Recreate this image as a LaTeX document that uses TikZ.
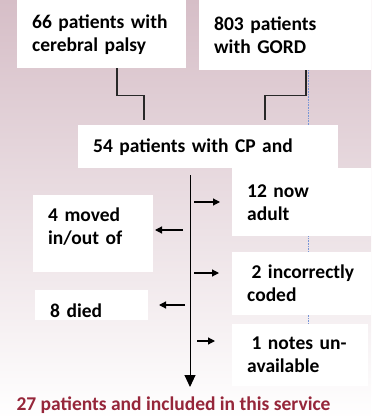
\documentclass[tikz,border=0pt]{standalone}
\usepackage{fontspec}
\setmainfont{Carlito}
\usetikzlibrary{positioning,arrows.meta}

\definecolor{bgtop}{RGB}{214,190,199}
\definecolor{outred}{RGB}{150,38,58}
\definecolor{linegray}{RGB}{40,40,40}
\definecolor{guideblue}{RGB}{120,150,215}

\tikzset{
  box/.style={fill=white, anchor=north west, inner xsep=15pt, inner ysep=0pt,
    align=left, text=black, font=\bfseries\fontsize{19.5}{23}\selectfont},
  elbow/.style={draw=linegray, line width=1.2pt},
  spine/.style={draw=black, line width=1pt, -{Triangle[length=12pt,width=11pt]}},
  side/.style={draw=black, line width=1.2pt, -{Triangle[length=7pt,width=7pt]}},
  result/.style={text=outred, font=\bfseries\fontsize{19.5}{23}\selectfont}
}

\begin{document}
\begin{tikzpicture}[x=1pt,y=-1pt]
  \useasboundingbox (0,0) rectangle (371,419);
  \shade[top color=bgtop, bottom color=white] (0,0) rectangle (371,419);

  % faint guide line behind the boxes
  \draw[guideblue, densely dotted, line width=0.6pt] (308,70) -- (308,323);

  % source boxes
  \node[box, text width=139pt, minimum height=68pt] (cpall) at (17,0) {66 patients with\\cerebral palsy};
  \node[box, text width=142pt, minimum height=70pt] (gord) at (199,0) {803 patients\\with GORD};

  % merged group
  \node[box, text width=230pt, minimum height=43pt] (merged) at (78,125) {54 patients with CP and};

  % exclusions
  \node[box, text width=109pt, minimum height=68pt] (adult) at (232,168) {12 now\\adult};
  \node[box, text width=90pt, minimum height=77pt] (moved) at (33,195) {4 moved\\in/out of\rule[-16pt]{0pt}{0pt}};
  \node[box, text width=109pt, minimum height=63pt] (coded) at (232,252) {\hspace{4.4pt}2 incorrectly\\coded};
  \node[box, text width=83pt, minimum height=30pt] (died) at (35,290) {\rule{0pt}{25pt}8 died};
  \node[box, text width=106pt, minimum height=62pt] (notes) at (232,324) {\hspace{4.4pt}1 notes un-\\available};

  \node[result] (final) at (173.5,405) {27 patients and included in this service};

  % joining the two sources
  \draw[elbow] (cpall.south -| 117,0) -- ++(0,27) -| ([yshift=5pt]merged.north -| 144,0);
  \draw[elbow] (gord.south -| 306,0) -- ++(0,25) -| ([yshift=5pt]merged.north -| 265,0);

  % main flow
  \coordinate (flowend) at (190,387);
  \draw[spine] ([yshift=-7pt]merged.south -| 190,0) -- (flowend);

  % side arrows
  \coordinate (a1) at (194,202);
  \coordinate (b1) at (220,202);
  \coordinate (a2) at (183,230);
  \coordinate (b2) at (155,230);
  \coordinate (a3) at (194,273);
  \coordinate (b3) at (219,273);
  \coordinate (a4) at (185,305);
  \coordinate (b4) at (159,305);
  \coordinate (a5) at (197,341);
  \coordinate (b5) at (215,341);
  \draw[side] (a1) -- (b1);
  \draw[side] (a2) -- (b2);
  \draw[side] (a3) -- (b3);
  \draw[side] (a4) -- (b4);
  \draw[side] (a5) -- (b5);
\end{tikzpicture}
\end{document}
